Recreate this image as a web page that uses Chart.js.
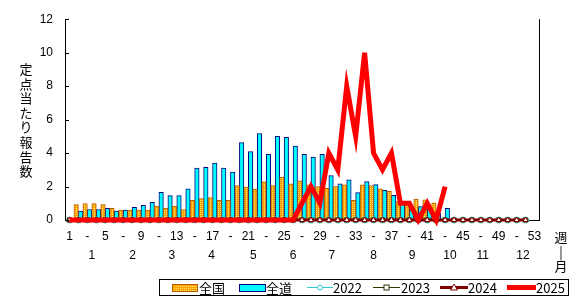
<!DOCTYPE html>
<html>
<head>
<meta charset="utf-8">
<script src="https://cdn.jsdelivr.net/npm/chart.js@4"></script>
<style>
  html, body { margin: 0; padding: 0; background: #fff; }
  #wrap { width: 579px; height: 299px; }
</style>
</head>
<body>
<div id="wrap"><canvas id="chart" width="579" height="299"></canvas></div>
<script>
/* data */
let weeks = Array.from({length: 53}, (v, i) => i + 1);
let zenkoku = [0, 0.92, 0.98, 0.98, 0.92, 0.69, 0.59, 0.59, 0.59, 0.59,
  0.83, 0.69, 0.83, 0.63, 1.18, 1.28, 1.34, 1.18, 1.18, 2.05,
  1.97, 1.85, 2.28, 2.05, 2.56, 2.16, 2.34, 2.1, 2.0, 1.9,
  2.0, 2.1, 1.18, 2.1, 2.05, 1.87, 1.71, 1.1, 1.0, 1.25,
  1.2, 1.02];
let zendo = [0, 0.53, 0.63, 0.63, 0.69, 0.53, 0.59, 0.75, 0.87, 1.06,
  1.65, 1.46, 1.46, 1.87, 3.11, 3.15, 3.4, 3.11, 2.87, 4.62,
  4.09, 5.17, 3.93, 5.0, 4.94, 4.42, 3.93, 3.76, 3.93, 2.65,
  2.16, 2.4, 1.64, 2.29, 2.11, 1.77, 1.47, 1.05, 0.8, 0.8,
  0.7, 0.4, 0.69];
let y2022 = Array(52).fill(0);
let y2023 = Array(52).fill(0);
let y2024 = Array(52).fill(0);
let y2025 = [0, 0, 0, 0, 0, 0, 0, 0, 0, 0,
  0, 0, 0, 0, 0, 0, 0, 0, 0, 0,
  0, 0, 0, 0, 0, 0, 1, 2, 1, 4,
  3, 8, 5, 10, 4, 3, 4, 1, 1, 0,
  1, 0, 2];
let yTicks = [0, 2, 4, 6, 8, 10, 12];
let months = ['1', '2', '3', '4', '5', '6', '7', '8', '9', '10', '11', '12'];
// where each month label sits, in weeks
let monthWeek = [3.5, 8.05, 12.45, 16.9, 21.55, 26.0, 30.35, 35.0, 39.3, 43.55, 47.2, 51.7];
let yTitle = '定点当たり報告数';

let numFont = '12px "Liberation Sans", Arial, sans-serif';
let jpFont = '13px "Noto Sans CJK JP", sans-serif';

/* dotted orange fill for the 全国 bars */
function dotPattern() {
  let c = document.createElement('canvas');
  c.width = 2; c.height = 2;
  let g = c.getContext('2d');
  g.fillStyle = '#FFA200';
  g.fillRect(0, 0, 2, 2);
  g.fillStyle = '#FFF07A';
  g.fillRect(0, 0, 1, 1);
  return g.createPattern(c, 'repeat');
}
let orangeFill = dotPattern();

/* ------------------------------------------- */
/* EXTRA DRAWING ----------------------------- */
/* ------------------------------------------- */
let extras = {
  id: 'extras',
  afterDraw(chart) {
    let ctx = chart.ctx;
    let a = chart.chartArea;
    let x = chart.scales.x;
    let y = chart.scales.y;
    ctx.save();
    ctx.strokeStyle = '#000';
    ctx.lineWidth = 1;
    // inward ticks on y axis
    yTicks.forEach(v => {
      let py = Math.round(y.getPixelForValue(v)) + 0.5;
      ctx.beginPath();
      ctx.moveTo(a.left, py);
      ctx.lineTo(a.left + 4, py);
      ctx.stroke();
    });
    // right frame line
    ctx.beginPath();
    ctx.moveTo(Math.round(a.right) + 0.5, a.top);
    ctx.lineTo(Math.round(a.right) + 0.5, a.bottom);
    ctx.stroke();

    // month row
    ctx.fillStyle = '#000';
    ctx.font = numFont;
    ctx.textAlign = 'center';
    ctx.textBaseline = 'middle';
    months.forEach((m, i) => {
      ctx.fillText(m, x.getPixelForValue(monthWeek[i] - 1), 256);
    });

    // 週 | 月 on the right
    ctx.font = jpFont;
    ctx.fillText('週', 561, 237);
    ctx.fillText('|', 561, 252);
    ctx.fillText('月', 561, 266);

    // vertical y title
    for (let i = 0; i < yTitle.length; i++) {
      ctx.fillText(yTitle[i], 26, 69 + i * 14.6);
    }

    // legend box
    ctx.strokeRect(159.5, 279.5, 409, 16);
    ctx.textAlign = 'left';
    let ty = 288;
    // 全国
    ctx.fillStyle = orangeFill;
    ctx.fillRect(172, 284, 25, 7);
    ctx.strokeStyle = '#B85C00';
    ctx.strokeRect(172.5, 284.5, 25, 7);
    ctx.fillStyle = '#000';
    ctx.fillText('全国', 199, ty);
    // 全道
    ctx.fillStyle = '#00FFFF';
    ctx.fillRect(239, 284, 26, 7);
    ctx.strokeStyle = '#000080';
    ctx.strokeRect(239.5, 284.5, 26, 7);
    ctx.fillStyle = '#000';
    ctx.fillText('全道', 266, ty);
    // line items
    let items = [
      {x0: 307, x1: 333, col: '#33CCCC', w: 1, mark: 'circle', text: '2022', tx: 333},
      {x0: 373, x1: 400, col: '#333300', w: 1, mark: 'rect', text: '2023', tx: 401},
      {x0: 440, x1: 468, col: '#800000', w: 3, mark: 'tri', text: '2024', tx: 468},
      {x0: 507, x1: 536, col: '#FF0000', w: 5, mark: '', text: '2025', tx: 536}
    ];
    items.forEach(it => {
      ctx.strokeStyle = it.col;
      ctx.lineWidth = it.w;
      ctx.beginPath();
      ctx.moveTo(it.x0, ty - 0.5);
      ctx.lineTo(it.x1, ty - 0.5);
      ctx.stroke();
      let cx = (it.x0 + it.x1) / 2;
      ctx.lineWidth = 1;
      ctx.fillStyle = '#fff';
      if (it.mark == 'circle') {
        ctx.beginPath();
        ctx.arc(cx, ty - 0.5, 2.5, 0, Math.PI * 2);
        ctx.fill(); ctx.stroke();
      } else if (it.mark == 'rect') {
        ctx.fillRect(cx - 2.5, ty - 3, 5, 5);
        ctx.strokeRect(cx - 2.5, ty - 3, 5, 5);
      } else if (it.mark == 'tri') {
        ctx.beginPath();
        ctx.moveTo(cx, ty - 4);
        ctx.lineTo(cx + 3.5, ty + 2);
        ctx.lineTo(cx - 3.5, ty + 2);
        ctx.closePath();
        ctx.fill(); ctx.stroke();
      }
      ctx.fillStyle = '#000';
      ctx.fillText(it.text, it.tx, ty);
    });
    ctx.restore();
  }
};

/* ------------------------------------------- */
/* CHART ------------------------------------- */
/* ------------------------------------------- */
let lineSet = (label, data, color, width, style, order) => ({
  type: 'line',
  label: label,
  data: data,
  borderColor: color,
  borderWidth: width,
  pointStyle: style,
  pointRadius: style ? 3 : 0,
  pointBackgroundColor: '#fff',
  pointBorderColor: color,
  pointBorderWidth: 1,
  tension: 0,
  clip: false,
  order: order,
  spanGaps: false
});

let ctx = document.getElementById('chart').getContext('2d');
let chart = new Chart(ctx, {
  type: 'bar',
  data: {
    labels: weeks,
    datasets: [
      {label: '全国', data: zenkoku, backgroundColor: orangeFill, borderColor: '#B85C00',
        borderWidth: 1, categoryPercentage: 1, barPercentage: 1, order: 10},
      {label: '全道', data: zendo, backgroundColor: '#00FFFF', borderColor: '#000080',
        borderWidth: 1, categoryPercentage: 1, barPercentage: 1, order: 10},
      lineSet('2022', y2022, '#33CCCC', 1, 'circle', 4),
      lineSet('2023', y2023, '#333300', 1, 'rect', 3),
      lineSet('2024', y2024, '#800000', 3, 'triangle', 2),
      lineSet('2025', y2025, '#FF0000', 5, false, 1)
    ]
  },
  options: {
    responsive: false,
    animation: false,
    events: [],
    layout: {padding: {top: 17, right: 40, left: 0, bottom: 0}},
    plugins: {legend: {display: false}, tooltip: {enabled: false}},
    scales: {
      x: {
        offset: true,
        grid: {display: false, drawTicks: false},
        border: {display: true, color: '#000', width: 1},
        afterFit: s => { s.height = 79; },
        ticks: {
          autoSkip: false, maxRotation: 0, padding: 9, color: '#000',
          font: {family: '"Liberation Sans", Arial, sans-serif', size: 12},
          callback: (v, i) => {
            let w = weeks[i];
            if (w % 2 == 0) return '';
            return (w - 1) % 4 == 0 ? String(w) : '-';
          }
        }
      },
      y: {
        min: 0, max: 12,
        grid: {display: false, drawTicks: false},
        border: {display: true, color: '#000', width: 1},
        afterFit: s => { s.width = 65; },
        afterBuildTicks: s => { s.ticks = yTicks.map(v => ({value: v})); },
        ticks: {
          padding: 12, color: '#000',
          font: {family: '"Liberation Sans", Arial, sans-serif', size: 12}
        }
      }
    }
  },
  plugins: [extras]
});
</script>
</body>
</html>
